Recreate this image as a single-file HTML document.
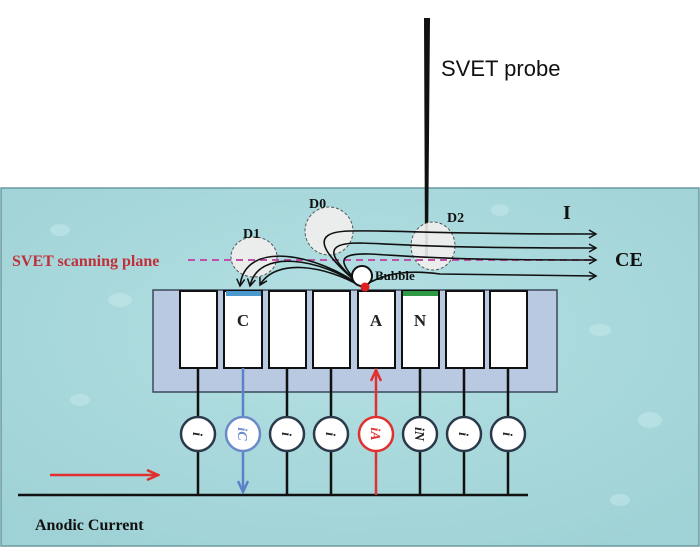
<!DOCTYPE html>
<html><head><meta charset="utf-8"><style>
html,body{margin:0;padding:0;background:#fff;}
svg{display:block;}
</style></head><body>
<svg width="700" height="547" viewBox="0 0 700 547" xmlns="http://www.w3.org/2000/svg">
<defs>
<radialGradient id="w" cx="50%" cy="40%" r="70%">
<stop offset="0" stop-color="#b4e0e3"/><stop offset="1" stop-color="#9fd2d6"/>
</radialGradient>
<marker id="ah" markerWidth="10" markerHeight="10" refX="8" refY="5" orient="auto" markerUnits="userSpaceOnUse">
<path d="M1,1 L8,5 L1,9" fill="none" stroke="#111" stroke-width="1.5"/></marker>
<marker id="ar" markerWidth="14" markerHeight="12" refX="12" refY="6" orient="auto" markerUnits="userSpaceOnUse">
<path d="M1,1 L12,6 L1,11" fill="none" stroke="#e03030" stroke-width="2.5"/></marker>
<marker id="ab" markerWidth="14" markerHeight="12" refX="12" refY="6" orient="auto" markerUnits="userSpaceOnUse">
<path d="M1,1 L12,6 L1,11" fill="none" stroke="#5a82c8" stroke-width="2.5"/></marker>
</defs>
<rect x="1" y="188" width="698" height="358" fill="url(#w)" stroke="#6a9aa0" stroke-width="1.5"/>
<g fill="#c8eaec" opacity="0.5">
<ellipse cx="60" cy="230" rx="10" ry="6"/><ellipse cx="120" cy="300" rx="12" ry="7"/><ellipse cx="600" cy="330" rx="11" ry="6"/><ellipse cx="650" cy="420" rx="12" ry="8"/><ellipse cx="80" cy="400" rx="10" ry="6"/><ellipse cx="620" cy="500" rx="10" ry="6"/><ellipse cx="500" cy="210" rx="9" ry="6"/>
</g>
<!-- probe -->
<polygon points="424,18 430,18 428,258 425,258" fill="#111"/>
<text x="441" y="76" font-family="Liberation Sans, sans-serif" font-size="22" fill="#111">SVET probe</text>
<!-- panel -->
<rect x="153" y="290" width="404" height="102" fill="#b9c9e2" stroke="#3a4a5a" stroke-width="1.5"/>
<g fill="#fff" stroke="#111" stroke-width="2">
<rect x="180" y="291" width="37" height="77"/><rect x="224" y="291" width="38" height="77"/>
<rect x="269" y="291" width="37" height="77"/><rect x="313" y="291" width="37" height="77"/>
<rect x="358" y="291" width="37" height="77"/><rect x="402" y="291" width="37" height="77"/>
<rect x="446" y="291" width="38" height="77"/><rect x="490" y="291" width="37" height="77"/>
</g>
<rect x="226" y="291" width="35" height="5" fill="#4a9ad0"/>
<rect x="403" y="291" width="35" height="5" fill="#2e9a48"/>
<g font-family="Liberation Serif, serif" font-weight="bold" font-size="17" fill="#222" text-anchor="middle">
<text x="243" y="326">C</text><text x="376" y="326">A</text><text x="420" y="326">N</text>
</g>
<!-- verticals -->
<g stroke="#111" stroke-width="2.5">
<line x1="198" y1="368" x2="198" y2="495"/><line x1="287" y1="368" x2="287" y2="495"/>
<line x1="331" y1="368" x2="331" y2="495"/><line x1="420" y1="368" x2="420" y2="495"/>
<line x1="464" y1="368" x2="464" y2="495"/><line x1="508" y1="368" x2="508" y2="495"/>
<line x1="18" y1="495" x2="528" y2="495"/>
</g>
<line x1="243" y1="368" x2="243" y2="492" stroke="#5a82c8" stroke-width="2.5" marker-end="url(#ab)"/>
<line x1="376" y1="495" x2="376" y2="370" stroke="#e03030" stroke-width="2.5" marker-end="url(#ar)"/>
<line x1="50" y1="475" x2="158" y2="475" stroke="#e03030" stroke-width="2.5" marker-end="url(#ar)"/>
<!-- circles -->
<g stroke-width="2.5" fill="#fff">
<circle cx="198" cy="434" r="17" stroke="#2a3a4a"/>
<circle cx="243" cy="434" r="17" stroke="#6a8ac8"/>
<circle cx="287" cy="434" r="17" stroke="#2a3a4a"/>
<circle cx="331" cy="434" r="17" stroke="#2a3a4a"/>
<circle cx="376" cy="434" r="17" stroke="#e03030"/>
<circle cx="420" cy="434" r="17" stroke="#2a3a4a"/>
<circle cx="464" cy="434" r="17" stroke="#2a3a4a"/>
<circle cx="508" cy="434" r="17" stroke="#2a3a4a"/>
</g>
<g font-family="Liberation Serif, serif" font-weight="bold" font-style="italic" font-size="14" text-anchor="middle">
<text transform="translate(198,434) rotate(90)" y="5" fill="#222">i</text>
<text transform="translate(243,434) rotate(90)" y="5" fill="#6a8ac8">iC</text>
<text transform="translate(287,434) rotate(90)" y="5" fill="#222">i</text>
<text transform="translate(331,434) rotate(90)" y="5" fill="#222">i</text>
<text transform="translate(376,434) rotate(90)" y="5" fill="#e03030">iA</text>
<text transform="translate(420,434) rotate(90)" y="5" fill="#222">iN</text>
<text transform="translate(464,434) rotate(90)" y="5" fill="#222">i</text>
<text transform="translate(508,434) rotate(90)" y="5" fill="#222">i</text>
</g>
<text x="35" y="530" font-family="Liberation Serif, serif" font-weight="bold" font-size="16" fill="#111">Anodic Current</text>
<!-- diffusion regions -->
<g fill="#f2eeee" fill-opacity="0.9" stroke="#555" stroke-dasharray="3,2" stroke-width="1">
<ellipse cx="254" cy="257" rx="23" ry="20"/>
<ellipse cx="329" cy="231" rx="24" ry="24"/>
<ellipse cx="433" cy="246" rx="22" ry="24"/>
</g>
<line x1="188" y1="260" x2="594" y2="260" stroke="#c050a8" stroke-width="2" stroke-dasharray="7,5"/>
<text x="12" y="266" font-family="Liberation Serif, serif" font-weight="bold" font-size="16" fill="#c0303a">SVET scanning plane</text>
<!-- flow lines -->
<g fill="none" stroke="#111" stroke-width="1.6" marker-end="url(#ah)">
<path d="M362,287 C325,255 305,232 350,231 C400,230 420,234 596,234"/>
<path d="M362,287 C330,258 320,243 360,243 C400,244 420,248 596,248"/>
<path d="M362,287 C338,262 335,253 370,254 C410,256 430,260 596,260"/>
<path d="M362,287 C385,272 410,270 440,274 L596,276"/>
<path d="M362,287 C320,255 245,238 240,286"/>
<path d="M362,287 C320,258 258,248 250,286"/>
<path d="M362,287 C325,265 275,258 260,285"/>
</g>
<circle cx="362" cy="276" r="10" fill="#fff" stroke="#111" stroke-width="2"/>
<circle cx="365" cy="287" r="4.5" fill="#e02020"/>
<text x="375" y="280" font-family="Liberation Serif, serif" font-weight="bold" font-size="13" fill="#111">Bubble</text>
<g font-family="Liberation Serif, serif" font-weight="bold" fill="#111">
<text x="243" y="238" font-size="14">D1</text>
<text x="309" y="208" font-size="14">D0</text>
<text x="447" y="222" font-size="14">D2</text>
<text x="563" y="219" font-size="20">I</text>
<text x="615" y="266" font-size="20">CE</text>
</g>
</svg>
</body></html>
